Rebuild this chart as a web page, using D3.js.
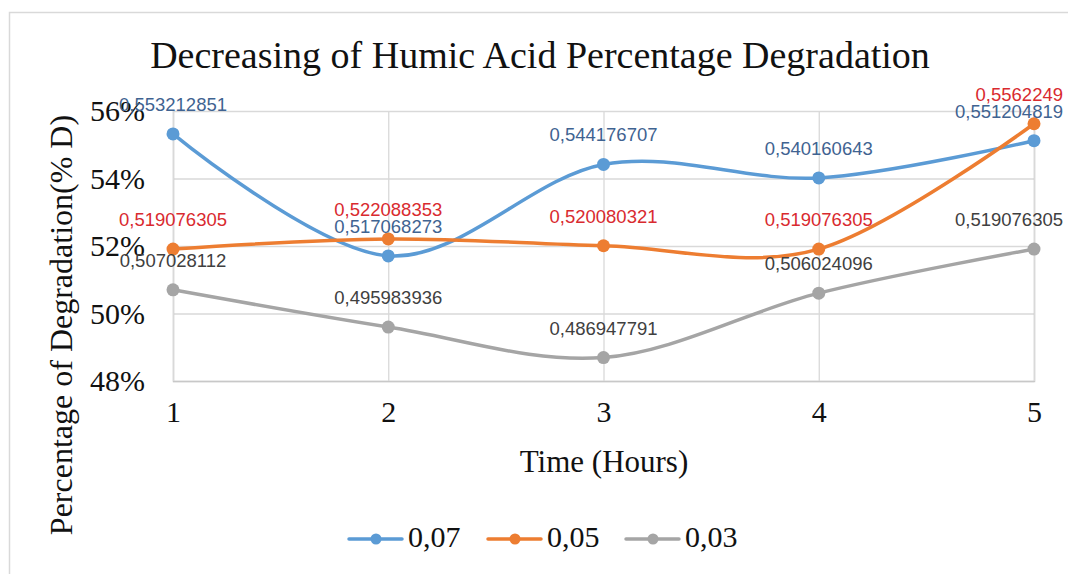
<!DOCTYPE html>
<html>
<head>
<meta charset="utf-8">
<script src="https://cdn.jsdelivr.net/npm/d3@7"></script>
<style>
    html, body { margin: 0; padding: 0; background: #fff; }
    svg { display: block; }
</style>
</head>
<body>
<svg id="chart" width="1068" height="574"></svg>
<script>
/**
 * Data.
 */
const hours = [1, 2, 3, 4, 5];
const seriesNames = ['0,07', '0,05', '0,03'];
const values007 = [0.553212851, 0.517068273, 0.544176707, 0.540160643, 0.551204819];
const values005 = [0.519076305, 0.522088353, 0.520080321, 0.519076305, 0.5562249];
const values003 = [0.507028112, 0.495983936, 0.486947791, 0.506024096, 0.519076305];
const yTicks = [0.48, 0.50, 0.52, 0.54, 0.56];

/**
 * Visual configs.
 */
const visWidth = 1068, visHeight = 574;
const margin = { top: 111, right: 34, bottom: 193, left: 173 };
const width = visWidth - margin.left - margin.right,
    height = visHeight - margin.top - margin.bottom;

const lineColors = ['#5b9bd5', '#ed7d31', '#a5a5a5'],
    labelColors = ['#3f6391', '#d92a2f', '#404040'];

const serif = '"Liberation Serif", "Times New Roman", serif',
    sans = '"Liberation Sans", Arial, sans-serif';

const series = [values007, values005, values003].map((vals, i) => ({
    name: seriesNames[i],
    points: vals.map((v, j) => ({ time: hours[j], value: v }))
}));

/**
 * D3.
 */
const xScale = d3.scaleLinear().domain([1, 5]).range([0, width]),
    yScale = d3.scaleLinear().domain([0.48, 0.56]).range([height, 0]),
    line = d3.line()
        .x(d => xScale(d.time))
        .y(d => yScale(d.value))
        .curve(d3.curveCardinal.tension(0));

const svg = d3.select('#chart');

// Chart border (only top and left edges show)
svg.append('rect')
    .attr('x', 9.5).attr('y', 12.5)
    .attr('width', 1100).attr('height', 600)
    .attr('fill', 'none')
    .attr('stroke', '#d9d9d9')
    .attr('stroke-width', 1.5);

// Title
svg.append('text')
    .attr('x', 540).attr('y', 68)
    .attr('text-anchor', 'middle')
    .style('font-family', serif)
    .style('font-size', '38px')
    .attr('fill', '#111')
    .text('Decreasing of Humic Acid Percentage Degradation');

const g = svg.append('g')
    .attr('transform', 'translate(' + margin.left + ',' + margin.top + ')');

// Grid
const yAxis = d3.axisLeft(yScale).tickValues(yTicks).tickSize(-width).tickFormat(d3.format('.0%')).tickPadding(28);
const yAxisContainer = g.append('g').attr('class', 'y-axis').call(yAxis);
yAxisContainer.select('.domain').remove();
yAxisContainer.selectAll('line').attr('stroke', '#d9d9d9').attr('stroke-width', 1.3);
yAxisContainer.selectAll('text')
    .style('font-family', serif)
    .style('font-size', '30px')
    .attr('fill', '#111')
    .attr('dy', '0.33em');

const xAxis = d3.axisBottom(xScale).tickValues(hours).tickSize(-height).tickFormat(d3.format('d')).tickPadding(20);
const xAxisContainer = g.append('g').attr('class', 'x-axis')
    .attr('transform', 'translate(0,' + height + ')')
    .call(xAxis);
xAxisContainer.select('.domain').attr('stroke', '#c8c8c8').attr('stroke-width', 1.5);
xAxisContainer.selectAll('line').attr('stroke', '#d9d9d9').attr('stroke-width', 1.3);
xAxisContainer.selectAll('text')
    .style('font-family', serif)
    .style('font-size', '30px')
    .attr('fill', '#111')
    .attr('dy', '0.71em');

// Axis titles
svg.append('text')
    .attr('x', 604).attr('y', 472)
    .attr('text-anchor', 'middle')
    .style('font-family', serif)
    .style('font-size', '31px')
    .attr('fill', '#111')
    .text('Time (Hours)');

svg.append('text')
    .attr('transform', 'translate(72,325) rotate(-90)')
    .attr('text-anchor', 'middle')
    .style('font-family', serif)
    .style('font-size', '32px')
    .attr('fill', '#111')
    .text('Percentage of Degradation(% D)');

// Lines and markers
const items = g.append('g').attr('class', 'items')
    .selectAll('g').data(series).join('g');

items.append('path')
    .attr('d', d => line(d.points))
    .attr('fill', 'none')
    .attr('stroke', (d, i) => lineColors[i])
    .attr('stroke-width', 3.5)
    .attr('stroke-linecap', 'round');

items.each(function(d, i) {
    d3.select(this).selectAll('circle').data(d.points).join('circle')
        .attr('cx', p => xScale(p.time))
        .attr('cy', p => yScale(p.value))
        .attr('r', 6.5)
        .attr('fill', lineColors[i]);
});

// Data labels, drawn on top of every line
const labels = g.append('g').attr('class', 'labels');
series.forEach((s, i) => {
    labels.selectAll('text.s' + i).data(s.points).join('text')
        .attr('class', 's' + i)
        .attr('x', p => xScale(p.time))
        .attr('y', p => yScale(p.value) - 23)
        .attr('text-anchor', 'middle')
        .style('font-family', sans)
        .style('font-size', '18.5px')
        .attr('fill', labelColors[i])
        .text(p => String(p.value).replace('.', ','))
        .each(function() {
            // Keep labels inside the chart area on the right
            const w = this.getComputedTextLength(),
                x = +this.getAttribute('x');
            if (x + w / 2 > width + 29) {
                d3.select(this).attr('text-anchor', 'end').attr('x', width + 29);
            }
        });
});

// Legend
const legendX = [349, 488, 626];
const legend = svg.append('g').attr('class', 'legend')
    .selectAll('g').data(series).join('g')
    .attr('transform', (d, i) => 'translate(' + legendX[i] + ',539)');

legend.append('line')
    .attr('x1', 0).attr('x2', 53)
    .attr('stroke', (d, i) => lineColors[i])
    .attr('stroke-width', 3.5)
    .attr('stroke-linecap', 'round');
legend.append('circle')
    .attr('cx', 27).attr('r', 5.5)
    .attr('fill', (d, i) => lineColors[i]);
legend.append('text')
    .attr('x', 59).attr('y', 8)
    .style('font-family', serif)
    .style('font-size', '30px')
    .attr('fill', '#111')
    .text(d => d.name);
</script>
</body>
</html>
